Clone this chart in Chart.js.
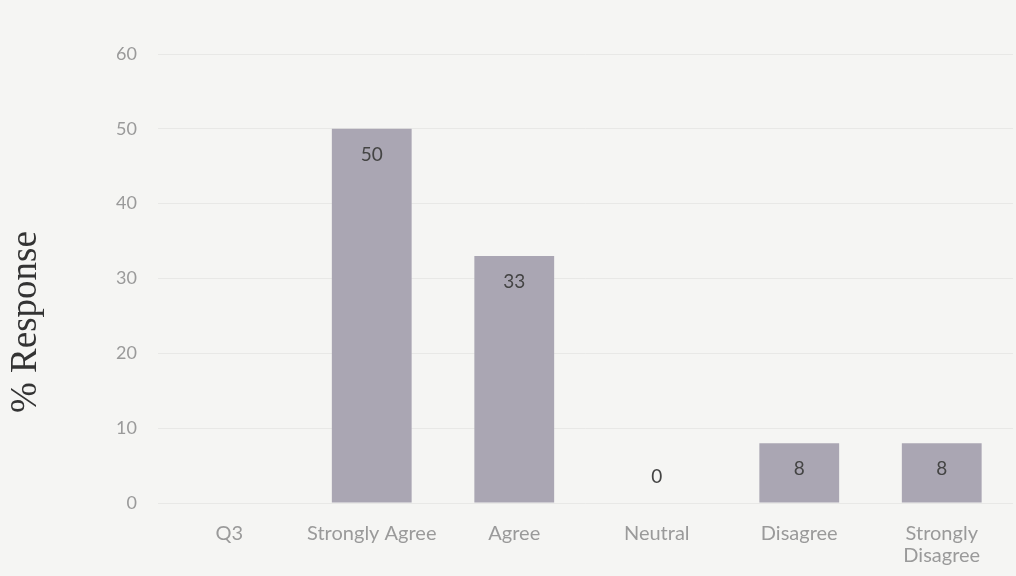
<!DOCTYPE html>
<html>
<head>
<meta charset="utf-8">
<script src="https://cdn.jsdelivr.net/npm/chart.js@4/dist/chart.umd.min.js"></script>
<style>
  html, body { margin: 0; padding: 0; background: #f5f5f3; }
  #wrap { width: 1016px; height: 576px; }
</style>
</head>
<body>
<div id="wrap"><canvas id="c" width="1016" height="576"></canvas></div>
<script>
// Survey responses for Q3.
const categories = ['Q3', 'Strongly Agree', 'Agree', 'Neutral', 'Disagree', ['Strongly', 'Disagree']];
const responses = [null, 50, 33, 0, 8, 8];
const yTicks = [0, 10, 20, 30, 40, 50, 60];
const yTitle = '% Response';

const barColor = '#aaa6b3';
const tickColor = '#9a9a9a';

// Excel-style "inside end" data labels; the zero bar gets its label above the baseline.
const valueLabels = {
  id: 'valueLabels',
  afterDatasetsDraw(chart) {
    const { ctx } = chart;
    const meta = chart.getDatasetMeta(0);
    const yScale = chart.scales.y;
    ctx.save();
    ctx.font = '19px Lato';
    ctx.fillStyle = '#444';
    ctx.textAlign = 'center';
    ctx.textBaseline = 'middle';
    meta.data.forEach((bar, i) => {
      const v = responses[i];
      if (v === null || v === undefined) return;
      const y = v === 0 ? yScale.getPixelForValue(0) - 26 : bar.y + 26;
      ctx.fillText(String(v), bar.x, y);
    });
    ctx.restore();
  },
};

// The scanned axis title sits lower than the plot's middle, so place it by hand.
const axisTitle = {
  id: 'axisTitle',
  afterDraw(chart) {
    const { ctx } = chart;
    ctx.save();
    ctx.translate(26, 322);
    ctx.rotate(-Math.PI / 2);
    ctx.font = '37px "Liberation Serif"';
    ctx.fillStyle = '#333';
    ctx.textAlign = 'center';
    ctx.textBaseline = 'middle';
    ctx.fillText(yTitle, 0, 0);
    ctx.restore();
  },
};

new Chart(document.getElementById('c'), {
  type: 'bar',
  plugins: [valueLabels, axisTitle],
  data: {
    labels: categories,
    datasets: [{
      data: responses,
      backgroundColor: barColor,
      borderWidth: 0,
      barPercentage: 0.56,
      categoryPercentage: 1,
    }],
  },
  options: {
    responsive: false,
    animation: false,
    layout: { padding: { top: 54, right: 3, left: 0, bottom: 0 } },
    scales: {
      x: {
        border: { display: false },
        grid: { display: false },
        ticks: {
          color: tickColor,
          font: { family: 'Lato', size: 20, lineHeight: 1.1 },
          padding: 12,
          maxRotation: 0,
          autoSkip: false,
        },
        afterFit: (scale) => { scale.height = 73; },
      },
      y: {
        min: 0,
        max: 60,
        afterBuildTicks: (scale) => { scale.ticks = yTicks.map((v) => ({ value: v })); },
        border: { display: false },
        grid: { color: 'rgba(0,0,0,0.05)', drawTicks: false },
        ticks: {
          color: tickColor,
          font: { family: 'Lato', size: 18 },
          padding: 21,
        },
        afterFit: (scale) => { scale.width = 158; },
      },
    },
    plugins: {
      legend: { display: false },
      tooltip: { enabled: false },
    },
  },
});
</script>
</body>
</html>
